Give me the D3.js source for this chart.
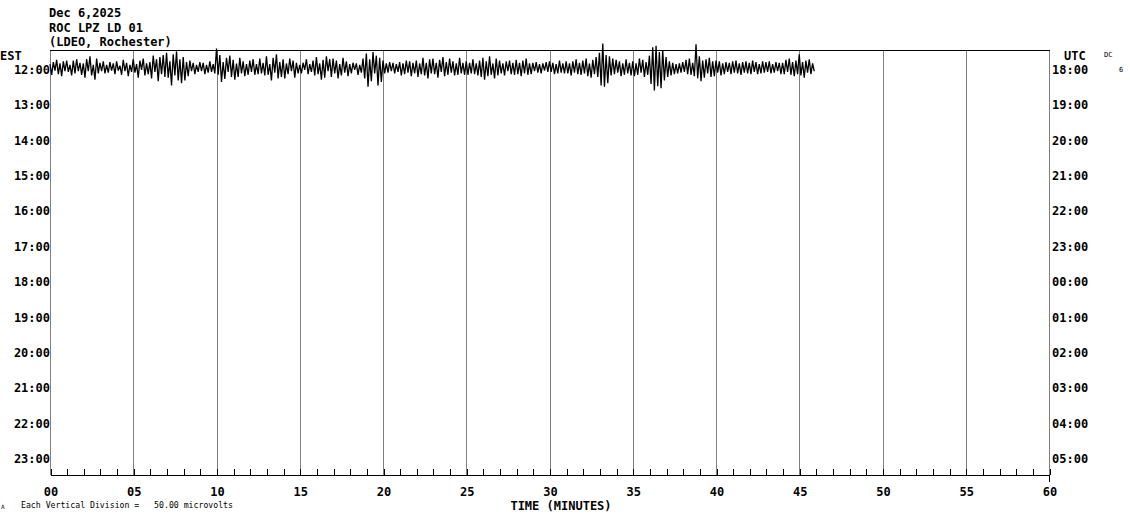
<!DOCTYPE html>
<html><head><meta charset="utf-8">
<script src="https://cdn.jsdelivr.net/npm/d3@7"></script>
<style>
html,body{margin:0;padding:0;background:#fff;}
svg{display:block;}
text{font-family:"DejaVu Sans Mono","Liberation Mono",monospace;fill:#000;}
</style></head>
<body>
<svg id="chart" width="1130" height="519"></svg>
<script>
// ---- data ----
const titleLines = ["Dec 6,2025", "ROC LPZ LD 01", "(LDEO, Rochester)"];
const estLabels = ["12:00","13:00","14:00","15:00","16:00","17:00","18:00","19:00","20:00","21:00","22:00","23:00"];
const utcLabels = ["18:00","19:00","20:00","21:00","22:00","23:00","00:00","01:00","02:00","03:00","04:00","05:00"];
const minuteTicks = d3.range(0, 61);
const majorMinutes = [0,5,10,15,20,25,30,35,40,45,50,55,60];
const majorLabels = ["00","05","10","15","20","25","30","35","40","45","50","55","60"];
const microvoltsPerDivision = 50;
const sampleStepMinutes = 0.1;
// trace samples (microvolts) for the first hour row, 10 samples per minute
const traceValues = [
  5,-10,8,-4,11,-9,6,-12,9,-5,
  10,-6,4,-11,10,-8,12,-5,7,-10,
  6,-14,12,-5,16,-11,4,-17,13,-8,
  7,-5,9,-8,4,-7,8,-4,6,-9,
  9,-4,3,-10,11,-5,7,-12,4,-6,
  12,-7,5,-14,10,-3,13,-11,6,-9,
  8,-15,17,-6,12,-19,15,-9,18,-13,
  21,-14,9,-25,19,-11,23,-18,12,-22,
  15,-18,8,-12,10,-5,7,-9,4,-6,
  8,-5,7,-9,4,-7,9,-6,5,-8,
  27,-10,18,-20,8,-16,14,-6,17,-13,
  11,-17,6,-13,14,-8,9,-12,5,-10,
  10,-6,12,-10,5,-9,13,-8,7,-11,
  16,-10,5,-18,14,-7,19,-15,8,-13,
  12,-15,6,-9,13,-5,10,-14,7,-8,
  4,-8,7,-3,12,-9,5,-6,10,-11,
  15,-9,6,-17,11,-14,16,-5,12,-13,
  13,-8,10,-15,5,-11,14,-7,9,-12,
  5,-8,7,-3,6,-10,4,-7,13,-15,
  20,-27,12,-19,22,-8,17,-25,14,-20,
  10,-8,6,-7,8,-5,7,-8,5,-6,
  8,-11,6,-9,10,-7,9,-12,7,-8,
  10,-13,6,-9,14,-11,7,-15,12,-8,
  13,-9,7,-14,11,-6,15,-12,8,-10,
  13,-7,9,-11,6,-10,14,-8,7,-10,
  9,-10,7,-8,12,-9,6,-11,10,-13,
  14,-17,9,-12,16,-10,6,-15,13,-11,
  10,-8,6,-11,9,-5,10,-9,7,-10,
  11,-9,7,-12,10,-8,13,-10,6,-9,
  7,-5,8,-7,5,-8,6,-4,8,-6,
  9,-6,7,-9,5,-8,10,-7,6,-8,
  9,-8,6,-11,9,-7,12,-9,7,-10,
  10,-8,13,-12,6,-14,11,-9,15,-13,
  21,-25,34,-27,18,-22,16,-11,13,-9,
  11,-7,9,-12,6,-10,12,-8,7,-11,
  9,-12,6,-10,13,-7,11,-13,8,-10,
  17,-23,29,-32,31,-26,22,-29,25,-18,
  15,-13,9,-11,7,-9,5,-8,6,-7,
  8,-6,11,-9,13,-10,7,-12,33,-15,
  16,-19,10,-14,12,-8,14,-13,9,-12,
  10,-7,9,-11,6,-9,8,-6,7,-9,
  9,-7,10,-8,6,-10,8,-7,9,-8,
  7,-9,10,-6,8,-9,5,-8,9,-7,
  8,-6,9,-8,5,-7,8,-5,7,-9,
  7,-9,11,-6,13,-10,8,-12,10,-9,
  19,-11,8,-14,10,-7,12,-9,6,-5
];

// ---- layout ----
const svg = d3.select("#chart");
const plotLeft = 50, plotRight = 1049, plotTop = 50, plotBottom = 475;
const x = d3.scaleLinear().domain([0, 60]).range([plotLeft, plotRight]);
const row = d3.scaleLinear().domain([0, 12]).range([plotTop, plotBottom]);
const rowH = row(1) - row(0);
const amp = d3.scaleLinear().domain([0, microvoltsPerDivision]).range([0, rowH]);

// gridlines
svg.append("g").selectAll("line").data(majorMinutes).join("line")
  .attr("x1", d => Math.round(x(d)) + 0.5).attr("x2", d => Math.round(x(d)) + 0.5)
  .attr("y1", plotTop).attr("y2", plotBottom)
  .attr("stroke", "#808080").attr("stroke-width", 1).attr("shape-rendering", "crispEdges");

// top border
svg.append("line").attr("x1", plotLeft).attr("x2", plotRight + 1).attr("y1", plotTop + 0.5).attr("y2", plotTop + 0.5)
  .attr("stroke", "#000").attr("shape-rendering", "crispEdges");

// bottom axis
const axis = d3.axisBottom(x).tickValues(minuteTicks).tickSize(-6).tickSizeOuter(0).tickPadding(12)
  .tickFormat(d => { const i = majorMinutes.indexOf(d); return i >= 0 ? majorLabels[i] : ""; });
const gAx = svg.append("g").attr("transform", `translate(0.5,${plotBottom})`).call(axis);
gAx.select(".domain").attr("stroke", "#000").attr("shape-rendering", "crispEdges");
gAx.selectAll(".tick line").attr("stroke", "#000").attr("shape-rendering", "crispEdges");
gAx.selectAll(".tick text").attr("font-size", 12).attr("font-weight", "bold")
  .attr("font-family", "DejaVu Sans Mono").attr("fill", "#000");
svg.append("line").attr("x1", Math.round(x(60)) + 0.5).attr("x2", Math.round(x(60)) + 0.5)
  .attr("y1", plotBottom).attr("y2", plotBottom + 7).attr("stroke", "#000").attr("shape-rendering", "crispEdges");

svg.append("text").attr("x", 561).attr("y", 510).attr("text-anchor", "middle")
  .attr("font-size", 12).attr("font-weight", "bold").text("TIME (MINUTES)");

// titles
svg.append("g").selectAll("text").data(titleLines).join("text")
  .attr("x", 49).attr("y", (d, i) => 17 + i * 14.5)
  .attr("font-size", 12).attr("font-weight", "bold").text(d => d);

// hour labels
svg.append("text").attr("x", 0).attr("y", 60).attr("font-size", 12).attr("font-weight", "bold").text("EST");
svg.append("text").attr("x", 1064).attr("y", 60).attr("font-size", 12).attr("font-weight", "bold").text("UTC");
svg.append("text").attr("x", 1104).attr("y", 57).attr("font-size", 7).text("DC");
svg.append("text").attr("x", 1119).attr("y", 72).attr("font-size", 7).text("6");

svg.append("g").selectAll("text").data(estLabels).join("text")
  .attr("x", 50).attr("y", (d, i) => row(i + 0.5) + 6).attr("text-anchor", "end")
  .attr("font-size", 12).attr("font-weight", "bold").text(d => d);
svg.append("g").selectAll("text").data(utcLabels).join("text")
  .attr("x", 1052).attr("y", (d, i) => row(i + 0.5) + 6)
  .attr("font-size", 12).attr("font-weight", "bold").text(d => d);

// footer
svg.append("text").attr("x", 21).attr("y", 508).attr("font-size", 8.2)
  .style("white-space", "pre").text("Each Vertical Division =   50.00 microvolts");
svg.append("text").attr("x", 1).attr("y", 509).attr("font-size", 6).text("A");

// trace
const center = row(0.5);
const line = d3.line()
  .x((d, i) => x(i * sampleStepMinutes))
  .y(d => center - amp(d));
svg.append("path").datum(traceValues).attr("d", line)
  .attr("fill", "none").attr("stroke", "#000").attr("stroke-width", 1.3);
</script>
</body></html>
